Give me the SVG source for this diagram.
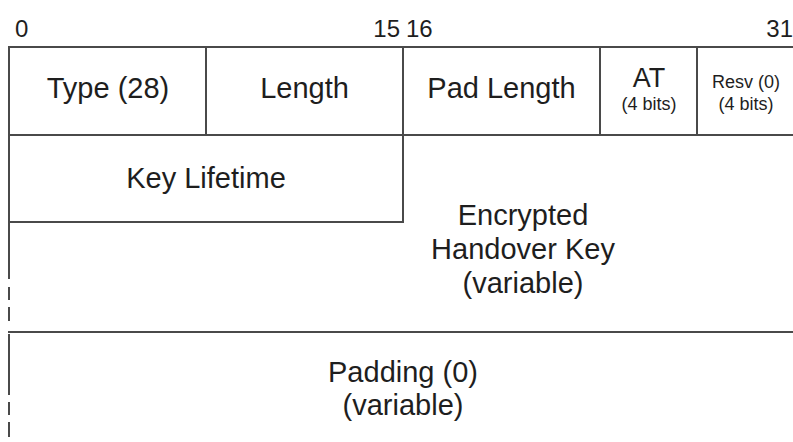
<svg xmlns="http://www.w3.org/2000/svg" width="793" height="442" viewBox="0 0 793 442">
<style>
.ln{stroke:#4a4a4a;stroke-width:2;fill:none}
.t{font-family:"Liberation Sans",Arial,sans-serif;fill:#1e1e1e;text-anchor:middle}
.m{font-size:29px}
.a{font-size:27px}
.h{font-size:24px}
.s{font-size:18px}
</style>
<rect width="793" height="442" fill="#ffffff"/>
<g id="header">
<text class="t h" x="15" y="37" style="text-anchor:start">0</text>
<text class="t h" x="400" y="37" style="text-anchor:end">15</text>
<text class="t h" x="406" y="37" style="text-anchor:start">16</text>
<text class="t h" x="793" y="37" style="text-anchor:end">31</text>
</g>
<g id="connectors">
<line class="ln" x1="8" y1="47" x2="793" y2="47"/>
<line class="ln" x1="8" y1="135" x2="793" y2="135"/>
<line class="ln" x1="9" y1="47" x2="9" y2="279"/>
<line class="ln" x1="9" y1="287" x2="9" y2="300"/>
<line class="ln" x1="9" y1="307" x2="9" y2="321"/>
<line class="ln" x1="8" y1="332" x2="793" y2="332"/>
<line class="ln" x1="9" y1="334" x2="9" y2="395"/>
<line class="ln" x1="9" y1="402" x2="9" y2="415"/>
<line class="ln" x1="9" y1="422" x2="9" y2="437"/>
<line class="ln" x1="206" y1="47" x2="206" y2="135"/>
<line class="ln" x1="403" y1="47" x2="403" y2="223"/>
<line class="ln" x1="600" y1="47" x2="600" y2="135"/>
<line class="ln" x1="697" y1="47" x2="697" y2="135"/>
<line class="ln" x1="9" y1="222" x2="404" y2="222"/>
</g>
<g id="type"><text class="t m" x="108" y="98">Type (28)</text></g>
<g id="length"><text class="t m" x="304.5" y="98">Length</text></g>
<g id="padlength"><text class="t m" x="501.5" y="98">Pad Length</text></g>
<g id="at">
<text class="t a" x="649" y="87">AT</text>
<text class="t s" x="649" y="110">(4 bits)</text>
</g>
<g id="resv">
<text class="t s" x="746" y="88">Resv (0)</text>
<text class="t s" x="746" y="110">(4 bits)</text>
</g>
<g id="keylifetime"><text class="t m" x="206" y="188">Key Lifetime</text></g>
<g id="encryptedkey">
<text class="t m" x="523" y="225">Encrypted</text>
<text class="t m" x="523" y="259">Handover Key</text>
<text class="t m" x="523" y="293">(variable)</text>
</g>
<g id="padding">
<text class="t m" x="403" y="382">Padding (0)</text>
<text class="t m" x="403" y="415">(variable)</text>
</g>
</svg>
